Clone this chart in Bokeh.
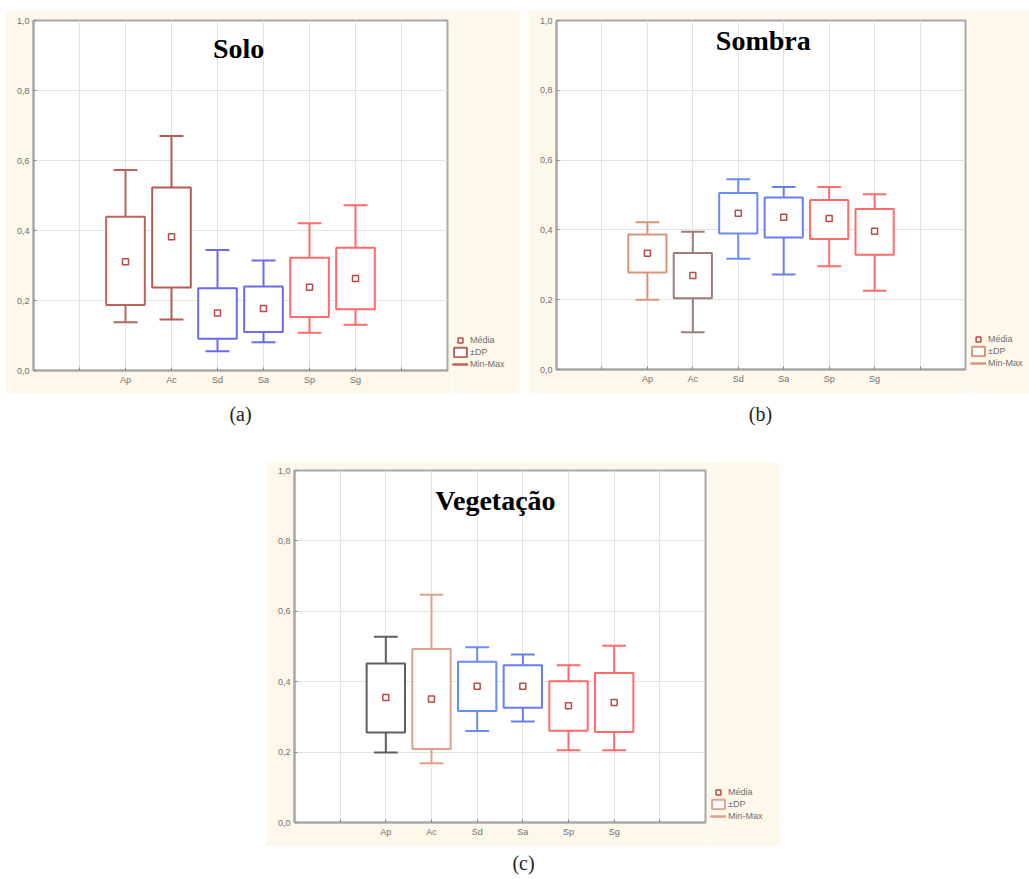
from bokeh.plotting import figure
from bokeh.models import (ColumnDataSource, Range1d, FixedTicker, Label, Legend, LegendItem, Spacer)
from bokeh.layouts import row, column
from bokeh.embed import file_html
from bokeh.resources import INLINE

# ---------------- data ----------------
categories = ["Ap", "Ac", "Sd", "Sa", "Sp", "Sg"]
y_ticks = [0.0, 0.2, 0.4, 0.6, 0.8, 1.0]
y_tick_labels = ["0,0", "0,2", "0,4", "0,6", "0,8", "1,0"]
legend_labels = ["Média", "±DP", "Min-Max"]

solo_max = [0.573, 0.670, 0.344, 0.314, 0.421, 0.472]
solo_sd_hi = [0.439, 0.523, 0.235, 0.240, 0.322, 0.351]
solo_mean = [0.311, 0.382, 0.164, 0.177, 0.238, 0.263]
solo_sd_lo = [0.187, 0.237, 0.091, 0.110, 0.153, 0.175]
solo_min = [0.138, 0.146, 0.055, 0.081, 0.108, 0.131]

sombra_max = [0.422, 0.395, 0.545, 0.523, 0.523, 0.502]
sombra_sd_hi = [0.387, 0.334, 0.506, 0.493, 0.486, 0.460]
sombra_mean = [0.333, 0.269, 0.448, 0.436, 0.433, 0.396]
sombra_sd_lo = [0.278, 0.204, 0.390, 0.378, 0.374, 0.329]
sombra_min = [0.200, 0.107, 0.317, 0.272, 0.296, 0.226]

veg_max = [0.528, 0.647, 0.498, 0.477, 0.447, 0.502]
veg_sd_hi = [0.452, 0.493, 0.457, 0.447, 0.401, 0.425]
veg_mean = [0.355, 0.351, 0.387, 0.387, 0.332, 0.341]
veg_sd_lo = [0.256, 0.209, 0.317, 0.326, 0.261, 0.257]
veg_min = [0.199, 0.168, 0.260, 0.287, 0.205, 0.205]

colors_a = ["#b8655e", "#b35c57", "#6a6af2", "#6a6af2", "#ff6b6b", "#ff6b6b"]
colors_b = ["#d4967a", "#a07c78", "#6a8cf2", "#6a7cf2", "#ff6b6b", "#ff6b6b"]
colors_c = ["#5e5e5e", "#e0a08e", "#6a8cf2", "#6a7cf2", "#ff6b6b", "#ff6b6b"]

CREAM = "#fdf8ea"
GRID = "#e2e2e2"
FRAME = "#a8a8a8"
MEAN_COLOR = "#b84a4a"


def draw_boxes(p, src):
    r_stem = p.segment(x0="x", y0="vhi", x1="x", y1="vmax", source=src, line_color="color", line_width=2)
    p.segment(x0="x", y0="vmin", x1="x", y1="vlo", source=src, line_color="color", line_width=2)
    r_cap = p.segment(x0="cl", y0="vmax", x1="cr", y1="vmax", source=src, line_color="color", line_width=2)
    p.segment(x0="cl", y0="vmin", x1="cr", y1="vmin", source=src, line_color="color", line_width=2)
    r_box = p.quad(left="left", right="right", bottom="vlo", top="vhi", source=src,
                   fill_color="white", line_color="color", line_width=2)
    r_mean = p.scatter(x="x", y="vmean", source=src, marker="square", size=6,
                       fill_color=None, line_color=MEAN_COLOR, line_width=1.5)
    return r_stem, r_cap, r_box, r_mean


def make_panel(title, tx, ty, vmax, vhi, vmean, vlo, vmin, colors,
               width, leg_width, height, bl, bt, bb, leg_loc, leg_index):
    xs = [i + 2 for i in range(len(categories))]
    src = ColumnDataSource(dict(x=xs, cat=categories, vmax=vmax, vhi=vhi,
                                vmean=vmean, vlo=vlo, vmin=vmin, color=colors,
                                left=[x - 0.42 for x in xs], right=[x + 0.42 for x in xs],
                                cl=[x - 0.26 for x in xs], cr=[x + 0.26 for x in xs]))
    p = figure(width=width, height=height, output_backend="svg", toolbar_location=None,
               x_range=Range1d(0, 9), y_range=Range1d(0, 1),
               min_border_left=bl, min_border_right=5, min_border_top=bt, min_border_bottom=bb,
               background_fill_color="white", border_fill_color=CREAM)
    p.outline_line_color = FRAME
    p.outline_line_width = 2

    p.xgrid.ticker = FixedTicker(ticks=[1, 2, 3, 4, 5, 6, 7, 8])
    p.ygrid.ticker = FixedTicker(ticks=[0.2, 0.4, 0.6, 0.8])
    for g in (p.xgrid, p.ygrid):
        g.grid_line_color = GRID
        g.grid_line_width = 1

    p.xaxis.ticker = FixedTicker(ticks=[1, 2, 3, 4, 5, 6, 7, 8])
    ov = {1: " ", 8: " "}
    for i, c in enumerate(categories):
        ov[i + 2] = c
    p.xaxis.major_label_overrides = ov
    p.yaxis.ticker = FixedTicker(ticks=y_ticks)
    p.yaxis.major_label_overrides = {t: l for t, l in zip(y_ticks, y_tick_labels)}
    for ax in (p.xaxis, p.yaxis):
        ax.axis_line_color = FRAME
        ax.axis_line_width = 2
        ax.major_tick_line_color = "#888888"
        ax.major_tick_in = 3
        ax.major_tick_out = 0
        ax.minor_tick_line_color = None
        ax.major_label_text_font = "Liberation Sans"
        ax.major_label_text_font_size = "9px"
        ax.major_label_text_color = "#707070"
        ax.major_label_standoff = 4

    draw_boxes(p, src)

    p.add_layout(Label(x=tx, y=ty, text=title, text_align="center", text_baseline="middle",
                       text_font="Liberation Serif", text_font_style="bold",
                       text_font_size="28px", text_color="black"))

    # legend figure (same glyphs, drawn off-range, only the legend is visible)
    lf = figure(width=leg_width, height=height, output_backend="svg", toolbar_location=None,
                x_range=Range1d(100, 101), y_range=Range1d(100, 101), min_border=0,
                x_axis_location=None, y_axis_location=None,
                background_fill_color=CREAM, border_fill_color=CREAM)
    lf.grid.visible = False
    lf.outline_line_color = None
    r_stem, r_cap, r_box, r_mean = draw_boxes(lf, src)
    legend = Legend(items=[
        LegendItem(label=legend_labels[0], renderers=[r_mean], index=0),
        LegendItem(label=legend_labels[1], renderers=[r_box], index=leg_index),
        LegendItem(label=legend_labels[2], renderers=[r_stem, r_cap], index=leg_index),
    ], location=leg_loc, orientation="vertical")
    legend.background_fill_alpha = 0
    legend.border_line_color = None
    legend.padding = 0
    legend.margin = 0
    legend.spacing = 0
    legend.glyph_width = 16
    legend.glyph_height = 12
    legend.label_height = 12
    legend.label_standoff = 2
    legend.label_text_font = "Liberation Sans"
    legend.label_text_font_size = "9px"
    legend.label_text_color = "#707070"
    legend.label_text_line_height = 1.0
    lf.add_layout(legend, "center")
    return row(p, lf, spacing=0)


def make_caption(text, width, height, cx, cy):
    c = figure(width=width, height=height, output_backend="svg", toolbar_location=None,
               x_range=Range1d(0, width), y_range=Range1d(0, height),
               x_axis_location=None, y_axis_location=None,
               min_border=0, background_fill_color="white", border_fill_color="white")
    c.grid.visible = False
    c.outline_line_color = None
    c.add_layout(Label(x=cx, y=cy, text=text, text_align="center", text_baseline="middle",
                       text_font="Liberation Serif", text_font_size="20px", text_color="#222222"))
    return c


pa = make_panel("Solo", 4.46, 0.92, solo_max, solo_sd_hi, solo_mean, solo_sd_lo, solo_min,
                colors_a, 447, 68, 383, 28, 10, 23, (0, 0), 0)
pb = make_panel("Sombra", 4.55, 0.943, sombra_max, sombra_sd_hi, sombra_mean, sombra_sd_lo, sombra_min,
                colors_b, 442, 59, 383, 28, 10, 24, (0, 0), 0)
pc = make_panel("Vegetação", 4.40, 0.915, veg_max, veg_sd_hi, veg_mean, veg_sd_lo, veg_min,
                colors_c, 444, 70, 384, 28, 8, 24, (0, 0), 1)

cap_a = make_caption("(a)", 515, 69, 235, 49)
cap_b = make_caption("(b)", 501, 69, 232, 49)
cap_c = make_caption("(c)", 514, 30, 257, 14)

layout = column(
    Spacer(width=10, height=10),
    row(Spacer(width=5, height=383), pa, Spacer(width=8, height=383), pb, spacing=0),
    row(Spacer(width=5, height=69), cap_a, Spacer(width=8, height=69), cap_b, spacing=0),
    row(Spacer(width=266, height=384), pc, spacing=0),
    row(Spacer(width=266, height=30), cap_c, spacing=0),
    spacing=0,
)

open("out.html", "w").write(file_html(layout, INLINE))
